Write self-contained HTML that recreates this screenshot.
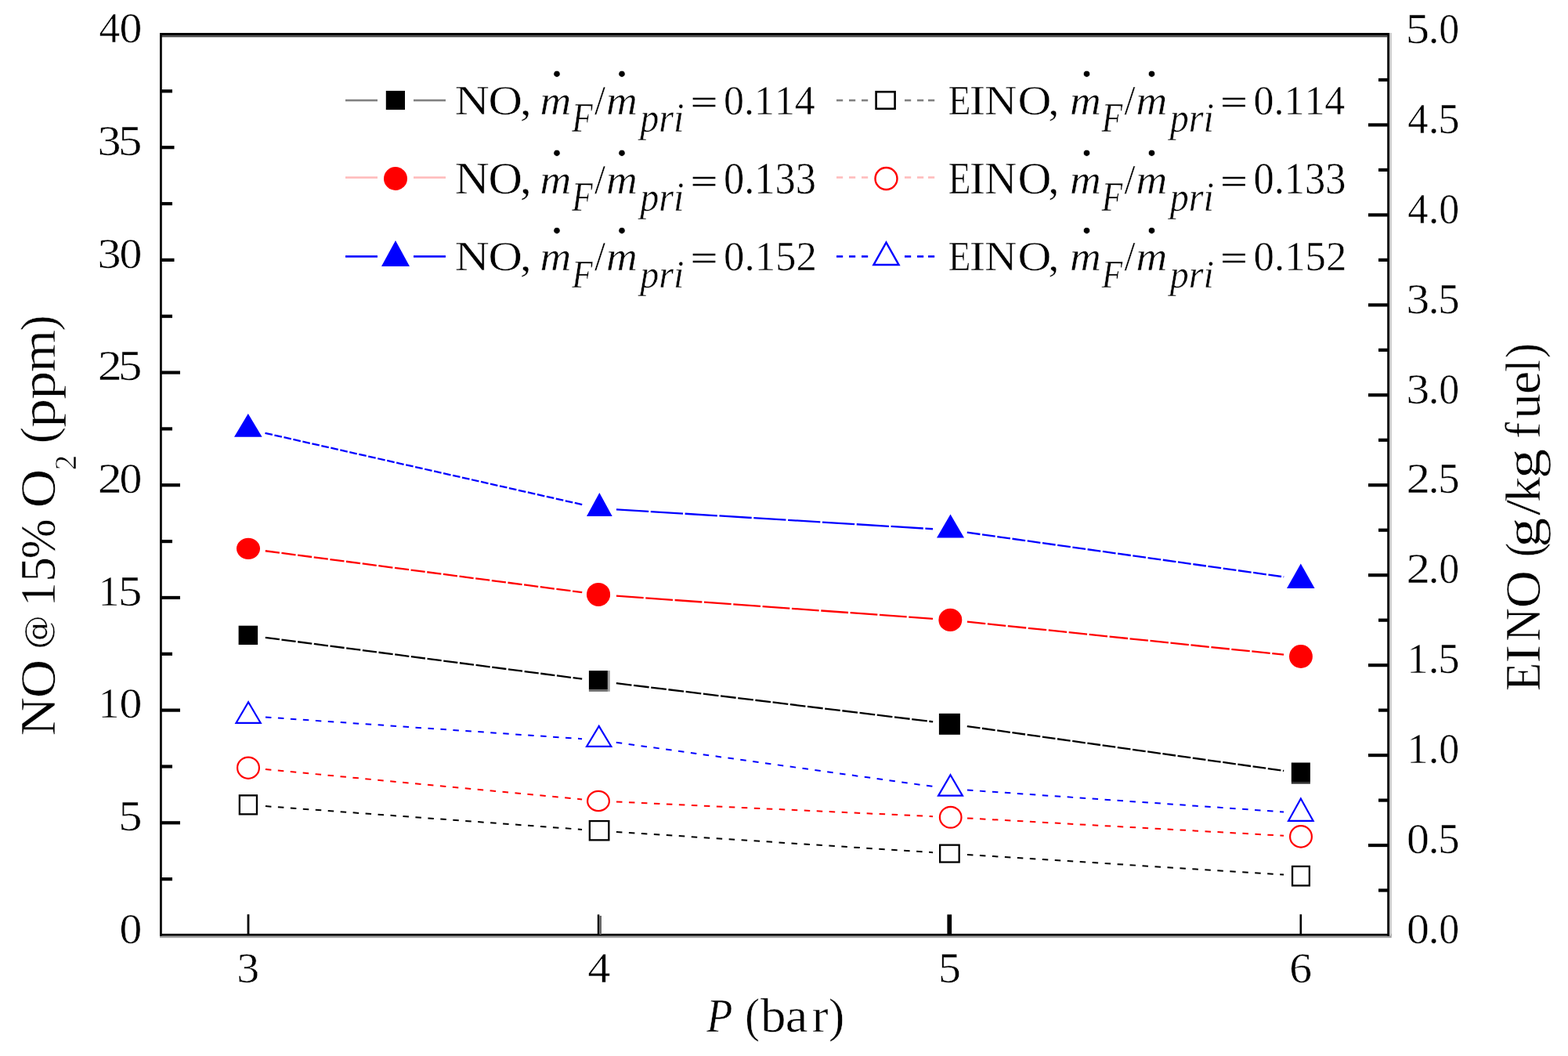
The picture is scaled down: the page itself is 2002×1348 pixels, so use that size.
<!DOCTYPE html>
<html><head><meta charset="utf-8"><style>
html,body{margin:0;padding:0;background:#fff;}
svg{display:block;}
text{font-family:"Liberation Serif",serif;fill:#000;font-kerning:none;stroke:#fff;stroke-width:0.5px;}
text.ns{stroke:#000;stroke-width:0.5px;}
</style></head><body>
<svg width="2002" height="1348" viewBox="0 0 2002 1348">
<rect width="2002" height="1348" fill="#fff"/>
<line x1="338.81" y1="813.85" x2="743.19" y2="866.65" stroke="#000" stroke-width="2.3" stroke-dasharray="18.25 2.6"/>
<line x1="786.84" y1="872.16" x2="1191.16" y2="921.34" stroke="#000" stroke-width="2.3" stroke-dasharray="19.76 2.6"/>
<line x1="1234.79" y1="927.06" x2="1639.21" y2="983.94" stroke="#000" stroke-width="2.3" stroke-dasharray="16.79 2.6"/>
<line x1="338.81" y1="703.25" x2="743.19" y2="756.15" stroke="#f00" stroke-width="2.3" stroke-dasharray="18.22 2.6"/>
<line x1="786.94" y1="760.59" x2="1191.06" y2="789.81" stroke="#f00" stroke-width="2.3" stroke-dasharray="34.83 2.6"/>
<line x1="1234.88" y1="793.68" x2="1639.12" y2="835.72" stroke="#f00" stroke-width="2.3" stroke-dasharray="23.50 2.6"/>
<line x1="338.46" y1="552.84" x2="743.54" y2="644.16" stroke="#00f" stroke-width="2.3" stroke-dasharray="9.68 2.6"/>
<line x1="786.96" y1="650.35" x2="1191.04" y2="675.25" stroke="#00f" stroke-width="2.3" stroke-dasharray="41.31 2.6"/>
<line x1="1234.79" y1="679.66" x2="1639.21" y2="736.44" stroke="#00f" stroke-width="2.3" stroke-dasharray="16.82 2.6"/>
<line x1="338.94" y1="1029.12" x2="743.06" y2="1058.88" stroke="#000" stroke-width="2.0" stroke-dasharray="7.5 8.5"/>
<line x1="786.95" y1="1061.93" x2="1191.05" y2="1088.17" stroke="#000" stroke-width="2.0" stroke-dasharray="7.5 8.5"/>
<line x1="1234.96" y1="1090.99" x2="1639.04" y2="1116.61" stroke="#000" stroke-width="2.0" stroke-dasharray="7.5 8.5"/>
<line x1="338.90" y1="982.08" x2="743.10" y2="1020.42" stroke="#f00" stroke-width="2.0" stroke-dasharray="7.5 8.5"/>
<line x1="786.98" y1="1023.52" x2="1191.02" y2="1042.18" stroke="#f00" stroke-width="2.0" stroke-dasharray="7.5 8.5"/>
<line x1="1234.97" y1="1044.42" x2="1639.03" y2="1066.78" stroke="#f00" stroke-width="2.0" stroke-dasharray="7.5 8.5"/>
<line x1="338.95" y1="915.50" x2="743.05" y2="943.20" stroke="#00f" stroke-width="2.0" stroke-dasharray="7.5 8.5"/>
<line x1="786.79" y1="947.73" x2="1191.21" y2="1003.97" stroke="#00f" stroke-width="2.0" stroke-dasharray="7.5 8.5"/>
<line x1="1234.95" y1="1008.52" x2="1639.05" y2="1036.48" stroke="#00f" stroke-width="2.0" stroke-dasharray="7.5 8.5"/>
<rect x="304.6" y="798.7" width="24.5" height="24.3" fill="#000"/>
<rect x="751.9" y="856.1" width="24" height="24.3" fill="#000"/>
<rect x="775.9" y="856.1" width="2.9" height="26.7" fill="#a0a0a0"/>
<rect x="751.9" y="880.4" width="24" height="2.4" fill="#666"/>
<rect x="1198.9" y="910.8" width="27" height="27" fill="#000"/>
<rect x="1648.8" y="973.5" width="24.1" height="24.6" fill="#000"/>
<rect x="1648.8" y="998.1" width="24.1" height="2.5" fill="#2a2a2a"/>
<ellipse cx="317.00" cy="700.35" rx="15.00" ry="13.65" fill="#f00"/>
<ellipse cx="764.05" cy="758.95" rx="15.05" ry="15.05" fill="#f00"/>
<ellipse cx="1213.35" cy="791.40" rx="14.95" ry="14.60" fill="#f00"/>
<ellipse cx="1660.95" cy="837.95" rx="14.95" ry="14.95" fill="#f00"/>
<polygon points="316.80,528.1 334.6,557.8 299,557.8" fill="#00f"/>
<polygon points="765.35,629 781.7,659.1 749,659.1" fill="#00f"/>
<polygon points="1213.50,656.6 1231,686.4 1196,686.4" fill="#00f"/>
<polygon points="1660.80,719.5 1678.6,751 1643,751" fill="#00f"/>
<rect x="305.85" y="1015.35" width="22.10" height="24.00" fill="#fff" stroke="#000" stroke-width="2.3"/>
<rect x="752.85" y="1048.05" width="24.50" height="24.30" fill="#fff" stroke="#000" stroke-width="2.3"/>
<rect x="1200.15" y="1078.65" width="24.50" height="21.90" fill="#fff" stroke="#000" stroke-width="2.3"/>
<rect x="1650.05" y="1105.95" width="21.80" height="24.50" fill="#fff" stroke="#000" stroke-width="2.3"/>
<ellipse cx="317.00" cy="980.20" rx="13.90" ry="13.60" fill="#fff" stroke="#f00" stroke-width="2.2"/>
<ellipse cx="764.00" cy="1022.50" rx="13.90" ry="12.60" fill="#fff" stroke="#f00" stroke-width="2.2"/>
<ellipse cx="1213.70" cy="1043.25" rx="13.80" ry="13.45" fill="#fff" stroke="#f00" stroke-width="2.2"/>
<ellipse cx="1661.00" cy="1067.90" rx="13.90" ry="13.70" fill="#fff" stroke="#f00" stroke-width="2.2"/>
<polygon points="317.10,896.20 332.71,922.79 301.49,922.79" fill="#fff" stroke="#00f" stroke-width="2.2" stroke-linejoin="miter"/>
<polygon points="764.70,926.90 780.31,952.79 749.09,952.79" fill="#fff" stroke="#00f" stroke-width="2.2" stroke-linejoin="miter"/>
<polygon points="1213.50,989.30 1228.91,1015.59 1198.09,1015.59" fill="#fff" stroke="#00f" stroke-width="2.2" stroke-linejoin="miter"/>
<polygon points="1660.85,1019.50 1676.61,1047.79 1645.09,1047.79" fill="#fff" stroke="#00f" stroke-width="2.2" stroke-linejoin="miter"/>
<rect x="204" y="42" width="1570" height="3.3" fill="#000"/>
<rect x="204" y="45.3" width="1567.2" height="2.1" fill="#404040"/>
<rect x="204" y="1191.9" width="1572.7" height="2.9" fill="#000"/>
<rect x="204" y="1194.8" width="1572.7" height="2.4" fill="#a0a0a0"/>
<rect x="204" y="42" width="2.8" height="1152.8" fill="#000"/>
<rect x="1771.2" y="42" width="2.9" height="1152.8" fill="#000"/>
<rect x="1774" y="42" width="2.8" height="1152.8" fill="#c8c8c8"/>
<rect x="205" y="1048.21" width="25" height="4.2" fill="#000"/>
<rect x="205" y="904.52" width="25" height="4.2" fill="#000"/>
<rect x="205" y="760.84" width="25" height="4.2" fill="#000"/>
<rect x="205" y="617.15" width="25" height="4.2" fill="#000"/>
<rect x="205" y="473.46" width="25" height="4.2" fill="#000"/>
<rect x="205" y="329.77" width="17.5" height="4.2" fill="#000"/>
<rect x="205" y="186.09" width="17.5" height="4.2" fill="#000"/>
<rect x="205" y="1120.06" width="15" height="4.2" fill="#000"/>
<rect x="205" y="976.37" width="15" height="4.2" fill="#000"/>
<rect x="205" y="832.68" width="15" height="4.2" fill="#000"/>
<rect x="205" y="688.99" width="15" height="4.2" fill="#000"/>
<rect x="205" y="545.31" width="15" height="4.2" fill="#000"/>
<rect x="205" y="401.62" width="15" height="4.2" fill="#000"/>
<rect x="205" y="257.93" width="15" height="4.2" fill="#000"/>
<rect x="205" y="114.24" width="15" height="4.2" fill="#000"/>
<rect x="1747" y="1076.95" width="25" height="4.2" fill="#000"/>
<rect x="1747" y="962.00" width="25" height="4.2" fill="#000"/>
<rect x="1747" y="847.05" width="25" height="4.2" fill="#000"/>
<rect x="1747" y="732.10" width="25" height="4.2" fill="#000"/>
<rect x="1747" y="617.15" width="25" height="4.2" fill="#000"/>
<rect x="1747" y="502.20" width="25" height="4.2" fill="#000"/>
<rect x="1747" y="387.25" width="25" height="4.2" fill="#000"/>
<rect x="1747" y="272.30" width="25" height="4.2" fill="#000"/>
<rect x="1747" y="157.35" width="25" height="4.2" fill="#000"/>
<rect x="1760" y="1134.43" width="12" height="4.2" fill="#000"/>
<rect x="1760" y="1019.48" width="12" height="4.2" fill="#000"/>
<rect x="1760" y="904.52" width="12" height="4.2" fill="#000"/>
<rect x="1760" y="789.57" width="12" height="4.2" fill="#000"/>
<rect x="1760" y="674.62" width="12" height="4.2" fill="#000"/>
<rect x="1760" y="559.67" width="12" height="4.2" fill="#000"/>
<rect x="1760" y="444.73" width="12" height="4.2" fill="#000"/>
<rect x="1760" y="329.77" width="12" height="4.2" fill="#000"/>
<rect x="1760" y="214.82" width="12" height="4.2" fill="#000"/>
<rect x="1760" y="99.87" width="12" height="4.2" fill="#000"/>
<rect x="315.6" y="1167.2" width="2.8" height="26" fill="#000"/>
<rect x="762.8" y="1167.4" width="2.5" height="26" fill="#000"/>
<rect x="765.3" y="1169" width="2.7" height="24" fill="#666"/>
<rect x="1209.4" y="1167.4" width="5.7" height="26" fill="#000"/>
<rect x="1659.5" y="1167.2" width="2.6" height="26" fill="#000"/>
<text x="152.51" y="1203.80" font-size="54" textLength="28.79" lengthAdjust="spacingAndGlyphs" style="">0</text>
<text x="151.18" y="1060.11" font-size="54" textLength="30.29" lengthAdjust="spacingAndGlyphs" style="">5</text>
<text x="125.38" y="916.42" font-size="54" textLength="26.84" lengthAdjust="spacingAndGlyphs" style="">1</text>
<text x="152.40" y="916.42" font-size="54" textLength="28.90" lengthAdjust="spacingAndGlyphs" style="">0</text>
<text x="125.38" y="772.74" font-size="54" textLength="26.84" lengthAdjust="spacingAndGlyphs" style="">1</text>
<text x="151.07" y="772.74" font-size="54" textLength="30.41" lengthAdjust="spacingAndGlyphs" style="">5</text>
<text x="124.78" y="629.05" font-size="54" textLength="30.93" lengthAdjust="spacingAndGlyphs" style="">2</text>
<text x="152.40" y="629.05" font-size="54" textLength="28.90" lengthAdjust="spacingAndGlyphs" style="">0</text>
<text x="124.78" y="485.36" font-size="54" textLength="30.93" lengthAdjust="spacingAndGlyphs" style="">2</text>
<text x="151.07" y="485.36" font-size="54" textLength="30.41" lengthAdjust="spacingAndGlyphs" style="">5</text>
<text x="124.63" y="341.68" font-size="54" textLength="30.02" lengthAdjust="spacingAndGlyphs" style="">3</text>
<text x="152.40" y="341.68" font-size="54" textLength="28.90" lengthAdjust="spacingAndGlyphs" style="">0</text>
<text x="124.63" y="197.99" font-size="54" textLength="30.02" lengthAdjust="spacingAndGlyphs" style="">3</text>
<text x="151.07" y="197.99" font-size="54" textLength="30.41" lengthAdjust="spacingAndGlyphs" style="">5</text>
<text x="126.46" y="54.30" font-size="54" textLength="26.68" lengthAdjust="spacingAndGlyphs" style="">4</text>
<text x="152.40" y="54.30" font-size="54" textLength="28.90" lengthAdjust="spacingAndGlyphs" style="">0</text>
<text x="1796.10" y="1204.20" font-size="54" textLength="28.90" lengthAdjust="spacingAndGlyphs" style="">0</text>
<text x="1823.87" y="1204.20" font-size="54" textLength="13.75" lengthAdjust="spacingAndGlyphs" style="">.</text>
<text x="1837.32" y="1204.20" font-size="54" textLength="25.95" lengthAdjust="spacingAndGlyphs" style="">0</text>
<text x="1796.10" y="1089.25" font-size="54" textLength="28.90" lengthAdjust="spacingAndGlyphs" style="">0</text>
<text x="1823.87" y="1089.25" font-size="54" textLength="13.75" lengthAdjust="spacingAndGlyphs" style="">.</text>
<text x="1836.13" y="1089.25" font-size="54" textLength="27.31" lengthAdjust="spacingAndGlyphs" style="">5</text>
<text x="1796.21" y="974.30" font-size="54" textLength="27.27" lengthAdjust="spacingAndGlyphs" style="">1</text>
<text x="1823.87" y="974.30" font-size="54" textLength="13.75" lengthAdjust="spacingAndGlyphs" style="">.</text>
<text x="1837.32" y="974.30" font-size="54" textLength="25.95" lengthAdjust="spacingAndGlyphs" style="">0</text>
<text x="1796.21" y="859.35" font-size="54" textLength="27.27" lengthAdjust="spacingAndGlyphs" style="">1</text>
<text x="1823.87" y="859.35" font-size="54" textLength="13.75" lengthAdjust="spacingAndGlyphs" style="">.</text>
<text x="1836.13" y="859.35" font-size="54" textLength="27.31" lengthAdjust="spacingAndGlyphs" style="">5</text>
<text x="1795.61" y="744.40" font-size="54" textLength="30.56" lengthAdjust="spacingAndGlyphs" style="">2</text>
<text x="1823.87" y="744.40" font-size="54" textLength="13.75" lengthAdjust="spacingAndGlyphs" style="">.</text>
<text x="1837.32" y="744.40" font-size="54" textLength="25.95" lengthAdjust="spacingAndGlyphs" style="">0</text>
<text x="1795.61" y="629.45" font-size="54" textLength="30.56" lengthAdjust="spacingAndGlyphs" style="">2</text>
<text x="1823.87" y="629.45" font-size="54" textLength="13.75" lengthAdjust="spacingAndGlyphs" style="">.</text>
<text x="1836.13" y="629.45" font-size="54" textLength="27.31" lengthAdjust="spacingAndGlyphs" style="">5</text>
<text x="1795.46" y="514.50" font-size="54" textLength="29.65" lengthAdjust="spacingAndGlyphs" style="">3</text>
<text x="1823.87" y="514.50" font-size="54" textLength="13.75" lengthAdjust="spacingAndGlyphs" style="">.</text>
<text x="1837.32" y="514.50" font-size="54" textLength="25.95" lengthAdjust="spacingAndGlyphs" style="">0</text>
<text x="1795.46" y="399.55" font-size="54" textLength="29.65" lengthAdjust="spacingAndGlyphs" style="">3</text>
<text x="1823.87" y="399.55" font-size="54" textLength="13.75" lengthAdjust="spacingAndGlyphs" style="">.</text>
<text x="1836.13" y="399.55" font-size="54" textLength="27.31" lengthAdjust="spacingAndGlyphs" style="">5</text>
<text x="1797.27" y="284.60" font-size="54" textLength="26.35" lengthAdjust="spacingAndGlyphs" style="">4</text>
<text x="1823.87" y="284.60" font-size="54" textLength="13.75" lengthAdjust="spacingAndGlyphs" style="">.</text>
<text x="1837.32" y="284.60" font-size="54" textLength="25.95" lengthAdjust="spacingAndGlyphs" style="">0</text>
<text x="1797.27" y="169.65" font-size="54" textLength="26.35" lengthAdjust="spacingAndGlyphs" style="">4</text>
<text x="1823.87" y="169.65" font-size="54" textLength="13.75" lengthAdjust="spacingAndGlyphs" style="">.</text>
<text x="1836.13" y="169.65" font-size="54" textLength="27.31" lengthAdjust="spacingAndGlyphs" style="">5</text>
<text x="1794.77" y="54.70" font-size="54" textLength="30.41" lengthAdjust="spacingAndGlyphs" style="">5</text>
<text x="1823.87" y="54.70" font-size="54" textLength="13.75" lengthAdjust="spacingAndGlyphs" style="">.</text>
<text x="1837.32" y="54.70" font-size="54" textLength="25.95" lengthAdjust="spacingAndGlyphs" style="">0</text>
<text x="302.30" y="1253.80" font-size="54" textLength="28.89" lengthAdjust="spacingAndGlyphs" style="">3</text>
<text x="750.44" y="1253.80" font-size="54" textLength="28.89" lengthAdjust="spacingAndGlyphs" style="">4</text>
<text x="1198.00" y="1253.80" font-size="54" textLength="28.89" lengthAdjust="spacingAndGlyphs" style="">5</text>
<text x="1646.17" y="1253.80" font-size="54" textLength="28.89" lengthAdjust="spacingAndGlyphs" style="">6</text>
<text x="902.29" y="1317.00" font-size="61" textLength="33.08" lengthAdjust="spacingAndGlyphs" style="font-style:italic;">P</text>
<text x="951.14" y="1317.00" font-size="61" textLength="18.67" lengthAdjust="spacingAndGlyphs" style="">(</text>
<text x="971.00" y="1317.00" font-size="61" textLength="32.47" lengthAdjust="spacingAndGlyphs" style="">b</text>
<text x="1002.73" y="1317.00" font-size="61" textLength="28.65" lengthAdjust="spacingAndGlyphs" style="">a</text>
<text x="1036.75" y="1317.00" font-size="61" textLength="20.80" lengthAdjust="spacingAndGlyphs" style="">r</text>
<text x="1058.04" y="1317.00" font-size="61" textLength="20.23" lengthAdjust="spacingAndGlyphs" style="">)</text>
<text x="-939.26" y="69.60" font-size="64" textLength="49.23" lengthAdjust="spacingAndGlyphs" style="" transform="rotate(-90)">N</text>
<text x="-891.08" y="69.60" font-size="64" textLength="48.96" lengthAdjust="spacingAndGlyphs" style="" transform="rotate(-90)">O</text>
<text x="-774.52" y="69.60" font-size="64" textLength="31.39" lengthAdjust="spacingAndGlyphs" style="" transform="rotate(-90)">1</text>
<text x="-742.68" y="69.60" font-size="64" textLength="31.65" lengthAdjust="spacingAndGlyphs" style="" transform="rotate(-90)">5</text>
<text x="-713.29" y="69.60" font-size="64" textLength="50.87" lengthAdjust="spacingAndGlyphs" style="" transform="rotate(-90)">%</text>
<text x="-648.20" y="69.60" font-size="64" textLength="49.30" lengthAdjust="spacingAndGlyphs" style="" transform="rotate(-90)">O</text>
<text x="-566.21" y="69.60" font-size="64" textLength="21.26" lengthAdjust="spacingAndGlyphs" style="" transform="rotate(-90)">(</text>
<text x="-545.69" y="69.60" font-size="64" textLength="36.87" lengthAdjust="spacingAndGlyphs" style="" transform="rotate(-90)">p</text>
<text x="-509.67" y="69.60" font-size="64" textLength="36.19" lengthAdjust="spacingAndGlyphs" style="" transform="rotate(-90)">p</text>
<text x="-475.27" y="69.60" font-size="64" textLength="54.36" lengthAdjust="spacingAndGlyphs" style="" transform="rotate(-90)">m</text>
<text x="-422.78" y="69.60" font-size="64" textLength="20.49" lengthAdjust="spacingAndGlyphs" style="" transform="rotate(-90)">)</text>
<text x="-828.90" y="62.70" font-size="43.3" textLength="44.02" lengthAdjust="spacingAndGlyphs" style="font-family:&quot;DejaVu Serif&quot;,serif;" transform="rotate(-90)">@</text>
<text x="-600.31" y="96.50" font-size="40" textLength="19.46" lengthAdjust="spacingAndGlyphs" style="" transform="rotate(-90)">2</text>
<text x="-881.91" y="1966.00" font-size="64" textLength="36.27" lengthAdjust="spacingAndGlyphs" style="" transform="rotate(-90)">E</text>
<text x="-846.55" y="1966.00" font-size="64" textLength="23.54" lengthAdjust="spacingAndGlyphs" style="" transform="rotate(-90)">I</text>
<text x="-818.81" y="1966.00" font-size="64" textLength="42.98" lengthAdjust="spacingAndGlyphs" style="" transform="rotate(-90)">N</text>
<text x="-776.23" y="1966.00" font-size="64" textLength="48.06" lengthAdjust="spacingAndGlyphs" style="" transform="rotate(-90)">O</text>
<text x="-710.98" y="1966.00" font-size="64" textLength="18.02" lengthAdjust="spacingAndGlyphs" style="" transform="rotate(-90)">(</text>
<text x="-698.87" y="1966.00" font-size="64" textLength="38.01" lengthAdjust="spacingAndGlyphs" style="" transform="rotate(-90)">g</text>
<text x="-658.00" y="1966.00" font-size="64" textLength="20.30" lengthAdjust="spacingAndGlyphs" style="" transform="rotate(-90)">/</text>
<text x="-640.81" y="1966.00" font-size="64" textLength="31.81" lengthAdjust="spacingAndGlyphs" style="" transform="rotate(-90)">k</text>
<text x="-611.08" y="1966.00" font-size="64" textLength="38.13" lengthAdjust="spacingAndGlyphs" style="" transform="rotate(-90)">g</text>
<text x="-559.93" y="1966.00" font-size="64" textLength="20.93" lengthAdjust="spacingAndGlyphs" style="" transform="rotate(-90)">f</text>
<text x="-534.85" y="1966.00" font-size="64" textLength="32.25" lengthAdjust="spacingAndGlyphs" style="" transform="rotate(-90)">u</text>
<text x="-503.20" y="1966.00" font-size="64" textLength="29.50" lengthAdjust="spacingAndGlyphs" style="" transform="rotate(-90)">e</text>
<text x="-474.51" y="1966.00" font-size="64" textLength="15.42" lengthAdjust="spacingAndGlyphs" style="" transform="rotate(-90)">l</text>
<text x="-456.92" y="1966.00" font-size="64" textLength="18.80" lengthAdjust="spacingAndGlyphs" style="" transform="rotate(-90)">)</text>
<text x="580.75" y="145.50" font-size="53.5" textLength="43.95" lengthAdjust="spacingAndGlyphs" style="">N</text>
<text x="623.53" y="145.50" font-size="53.5" textLength="43.43" lengthAdjust="spacingAndGlyphs" style="">O</text>
<text x="663.70" y="145.50" font-size="53.5" textLength="15.11" lengthAdjust="spacingAndGlyphs" style="">,</text>
<text x="689.51" y="145.50" font-size="53.5" textLength="39.81" lengthAdjust="spacingAndGlyphs" style="font-style:italic;">m</text>
<text x="730.23" y="167.50" font-size="53.5" textLength="26.41" lengthAdjust="spacingAndGlyphs" style="font-style:italic;">F</text>
<text x="759.00" y="145.50" font-size="53.5" textLength="14.00" lengthAdjust="spacingAndGlyphs" style="">/</text>
<text x="774.01" y="145.50" font-size="53.5" textLength="39.81" lengthAdjust="spacingAndGlyphs" style="font-style:italic;">m</text>
<text x="817.32" y="167.50" font-size="53.5" textLength="56.14" lengthAdjust="spacingAndGlyphs" style="font-style:italic;">pri</text>
<text x="882.00" y="143.70" font-size="42" textLength="33.93" lengthAdjust="spacingAndGlyphs" style="" class="ns">=</text>
<text x="924.02" y="145.50" font-size="53.5" textLength="116.79" lengthAdjust="spacingAndGlyphs" style="">0.114</text>
<text x="711.00" y="98.20" font-size="70" text-anchor="middle">.</text>
<text x="794.00" y="98.20" font-size="70" text-anchor="middle">.</text>
<text x="1210.65" y="145.50" font-size="53.5" textLength="28.69" lengthAdjust="spacingAndGlyphs" style="">E</text>
<text x="1237.79" y="145.50" font-size="53.5" textLength="20.36" lengthAdjust="spacingAndGlyphs" style="">I</text>
<text x="1257.37" y="145.50" font-size="53.5" textLength="40.93" lengthAdjust="spacingAndGlyphs" style="">N</text>
<text x="1299.57" y="145.50" font-size="53.5" textLength="42.87" lengthAdjust="spacingAndGlyphs" style="">O</text>
<text x="1338.33" y="145.50" font-size="53.5" textLength="14.27" lengthAdjust="spacingAndGlyphs" style="">,</text>
<text x="1366.01" y="145.50" font-size="53.5" textLength="39.81" lengthAdjust="spacingAndGlyphs" style="font-style:italic;">m</text>
<text x="1406.73" y="167.50" font-size="53.5" textLength="26.41" lengthAdjust="spacingAndGlyphs" style="font-style:italic;">F</text>
<text x="1435.50" y="145.50" font-size="53.5" textLength="14.00" lengthAdjust="spacingAndGlyphs" style="">/</text>
<text x="1450.51" y="145.50" font-size="53.5" textLength="39.81" lengthAdjust="spacingAndGlyphs" style="font-style:italic;">m</text>
<text x="1493.82" y="167.50" font-size="53.5" textLength="56.14" lengthAdjust="spacingAndGlyphs" style="font-style:italic;">pri</text>
<text x="1558.50" y="143.70" font-size="42" textLength="33.93" lengthAdjust="spacingAndGlyphs" style="" class="ns">=</text>
<text x="1600.52" y="145.50" font-size="53.5" textLength="116.79" lengthAdjust="spacingAndGlyphs" style="">0.114</text>
<text x="1387.50" y="98.20" font-size="70" text-anchor="middle">.</text>
<text x="1470.50" y="98.20" font-size="70" text-anchor="middle">.</text>
<text x="580.75" y="246.60" font-size="57" textLength="43.95" lengthAdjust="spacingAndGlyphs" style="">N</text>
<text x="623.53" y="246.60" font-size="57" textLength="43.43" lengthAdjust="spacingAndGlyphs" style="">O</text>
<text x="663.70" y="246.60" font-size="57" textLength="15.11" lengthAdjust="spacingAndGlyphs" style="">,</text>
<text x="689.51" y="246.60" font-size="53.5" textLength="39.81" lengthAdjust="spacingAndGlyphs" style="font-style:italic;">m</text>
<text x="730.23" y="268.70" font-size="53.5" textLength="26.41" lengthAdjust="spacingAndGlyphs" style="font-style:italic;">F</text>
<text x="759.00" y="246.60" font-size="53.5" textLength="14.00" lengthAdjust="spacingAndGlyphs" style="">/</text>
<text x="774.01" y="246.60" font-size="53.5" textLength="39.81" lengthAdjust="spacingAndGlyphs" style="font-style:italic;">m</text>
<text x="817.32" y="268.70" font-size="53.5" textLength="56.14" lengthAdjust="spacingAndGlyphs" style="font-style:italic;">pri</text>
<text x="882.00" y="244.80" font-size="42" textLength="33.93" lengthAdjust="spacingAndGlyphs" style="" class="ns">=</text>
<text x="924.00" y="246.60" font-size="57" textLength="118.05" lengthAdjust="spacingAndGlyphs" style="">0.133</text>
<text x="711.00" y="199.30" font-size="70" text-anchor="middle">.</text>
<text x="794.00" y="199.30" font-size="70" text-anchor="middle">.</text>
<text x="1210.65" y="246.60" font-size="57" textLength="28.69" lengthAdjust="spacingAndGlyphs" style="">E</text>
<text x="1237.79" y="246.60" font-size="57" textLength="20.36" lengthAdjust="spacingAndGlyphs" style="">I</text>
<text x="1257.37" y="246.60" font-size="57" textLength="40.93" lengthAdjust="spacingAndGlyphs" style="">N</text>
<text x="1299.57" y="246.60" font-size="57" textLength="42.87" lengthAdjust="spacingAndGlyphs" style="">O</text>
<text x="1338.33" y="246.60" font-size="57" textLength="14.27" lengthAdjust="spacingAndGlyphs" style="">,</text>
<text x="1366.01" y="246.60" font-size="53.5" textLength="39.81" lengthAdjust="spacingAndGlyphs" style="font-style:italic;">m</text>
<text x="1406.73" y="268.70" font-size="53.5" textLength="26.41" lengthAdjust="spacingAndGlyphs" style="font-style:italic;">F</text>
<text x="1435.50" y="246.60" font-size="53.5" textLength="14.00" lengthAdjust="spacingAndGlyphs" style="">/</text>
<text x="1450.51" y="246.60" font-size="53.5" textLength="39.81" lengthAdjust="spacingAndGlyphs" style="font-style:italic;">m</text>
<text x="1493.82" y="268.70" font-size="53.5" textLength="56.14" lengthAdjust="spacingAndGlyphs" style="font-style:italic;">pri</text>
<text x="1558.50" y="244.80" font-size="42" textLength="33.93" lengthAdjust="spacingAndGlyphs" style="" class="ns">=</text>
<text x="1600.50" y="246.60" font-size="57" textLength="118.05" lengthAdjust="spacingAndGlyphs" style="">0.133</text>
<text x="1387.50" y="199.30" font-size="70" text-anchor="middle">.</text>
<text x="1470.50" y="199.30" font-size="70" text-anchor="middle">.</text>
<text x="580.75" y="345.20" font-size="53" textLength="43.95" lengthAdjust="spacingAndGlyphs" style="">N</text>
<text x="623.53" y="345.20" font-size="53" textLength="43.43" lengthAdjust="spacingAndGlyphs" style="">O</text>
<text x="663.70" y="345.20" font-size="53" textLength="15.11" lengthAdjust="spacingAndGlyphs" style="">,</text>
<text x="689.51" y="345.20" font-size="53.5" textLength="39.81" lengthAdjust="spacingAndGlyphs" style="font-style:italic;">m</text>
<text x="730.23" y="366.70" font-size="50" textLength="26.41" lengthAdjust="spacingAndGlyphs" style="font-style:italic;">F</text>
<text x="759.00" y="345.20" font-size="53.5" textLength="14.00" lengthAdjust="spacingAndGlyphs" style="">/</text>
<text x="774.01" y="345.20" font-size="53.5" textLength="39.81" lengthAdjust="spacingAndGlyphs" style="font-style:italic;">m</text>
<text x="817.32" y="366.70" font-size="50" textLength="56.14" lengthAdjust="spacingAndGlyphs" style="font-style:italic;">pri</text>
<text x="882.00" y="343.40" font-size="42" textLength="33.93" lengthAdjust="spacingAndGlyphs" style="" class="ns">=</text>
<text x="923.99" y="345.20" font-size="53" textLength="118.93" lengthAdjust="spacingAndGlyphs" style="">0.152</text>
<text x="711.00" y="297.90" font-size="70" text-anchor="middle">.</text>
<text x="794.00" y="297.90" font-size="70" text-anchor="middle">.</text>
<text x="1210.65" y="345.20" font-size="53" textLength="28.69" lengthAdjust="spacingAndGlyphs" style="">E</text>
<text x="1237.79" y="345.20" font-size="53" textLength="20.36" lengthAdjust="spacingAndGlyphs" style="">I</text>
<text x="1257.37" y="345.20" font-size="53" textLength="40.93" lengthAdjust="spacingAndGlyphs" style="">N</text>
<text x="1299.57" y="345.20" font-size="53" textLength="42.87" lengthAdjust="spacingAndGlyphs" style="">O</text>
<text x="1338.33" y="345.20" font-size="53" textLength="14.27" lengthAdjust="spacingAndGlyphs" style="">,</text>
<text x="1366.01" y="345.20" font-size="53.5" textLength="39.81" lengthAdjust="spacingAndGlyphs" style="font-style:italic;">m</text>
<text x="1406.73" y="366.70" font-size="50" textLength="26.41" lengthAdjust="spacingAndGlyphs" style="font-style:italic;">F</text>
<text x="1435.50" y="345.20" font-size="53.5" textLength="14.00" lengthAdjust="spacingAndGlyphs" style="">/</text>
<text x="1450.51" y="345.20" font-size="53.5" textLength="39.81" lengthAdjust="spacingAndGlyphs" style="font-style:italic;">m</text>
<text x="1493.82" y="366.70" font-size="50" textLength="56.14" lengthAdjust="spacingAndGlyphs" style="font-style:italic;">pri</text>
<text x="1558.50" y="343.40" font-size="42" textLength="33.93" lengthAdjust="spacingAndGlyphs" style="" class="ns">=</text>
<text x="1600.49" y="345.20" font-size="53" textLength="118.93" lengthAdjust="spacingAndGlyphs" style="">0.152</text>
<text x="1387.50" y="297.90" font-size="70" text-anchor="middle">.</text>
<text x="1470.50" y="297.90" font-size="70" text-anchor="middle">.</text>
<rect x="441" y="126.80" width="41" height="2.6" fill="#808080"/>
<rect x="528" y="126.80" width="41" height="2.6" fill="#808080"/>
<rect x="441" y="225.30" width="41" height="2.6" fill="#ffbcbc"/>
<rect x="528" y="225.30" width="41" height="2.6" fill="#ffbcbc"/>
<rect x="441" y="326.10" width="41" height="2.6" fill="#0000ff"/>
<rect x="528" y="326.10" width="41" height="2.6" fill="#0000ff"/>
<rect x="492.8" y="115.9" width="24.2" height="24.2" fill="#000"/>
<circle cx="505" cy="228" r="15" fill="#f00"/>
<polygon points="505,307 523,340 487,340" fill="#00f"/>
<rect x="1068" y="126.80" width="8.2" height="2.6" fill="#808080"/>
<rect x="1084" y="126.80" width="8.2" height="2.6" fill="#808080"/>
<rect x="1100" y="126.80" width="8.2" height="2.6" fill="#808080"/>
<rect x="1155" y="126.80" width="8.2" height="2.6" fill="#808080"/>
<rect x="1171" y="126.80" width="8.2" height="2.6" fill="#808080"/>
<rect x="1185" y="126.80" width="8.2" height="2.6" fill="#808080"/>
<rect x="1068" y="225.20" width="8.2" height="2.6" fill="#ffbcbc"/>
<rect x="1084" y="225.20" width="8.2" height="2.6" fill="#ffbcbc"/>
<rect x="1100" y="225.20" width="8.2" height="2.6" fill="#ffbcbc"/>
<rect x="1155" y="225.20" width="8.2" height="2.6" fill="#ffbcbc"/>
<rect x="1171" y="225.20" width="8.2" height="2.6" fill="#ffbcbc"/>
<rect x="1185" y="225.20" width="8.2" height="2.6" fill="#ffbcbc"/>
<rect x="1068" y="326.10" width="8.2" height="2.6" fill="#0000ff"/>
<rect x="1084" y="326.10" width="8.2" height="2.6" fill="#0000ff"/>
<rect x="1100" y="326.10" width="8.2" height="2.6" fill="#0000ff"/>
<rect x="1155" y="326.10" width="8.2" height="2.6" fill="#0000ff"/>
<rect x="1171" y="326.10" width="8.2" height="2.6" fill="#0000ff"/>
<rect x="1185" y="326.10" width="8.2" height="2.6" fill="#0000ff"/>
<rect x="1118.6" y="117.2" width="24" height="21.6" fill="#fff" stroke="#000" stroke-width="2.6"/>
<circle cx="1131.5" cy="228" r="14" fill="#fff" stroke="#f00" stroke-width="2.4"/>
<polygon points="1131.5,309.5 1147.5,338 1115.5,338" fill="#fff" stroke="#00f" stroke-width="2.5"/>
</svg>
</body></html>
